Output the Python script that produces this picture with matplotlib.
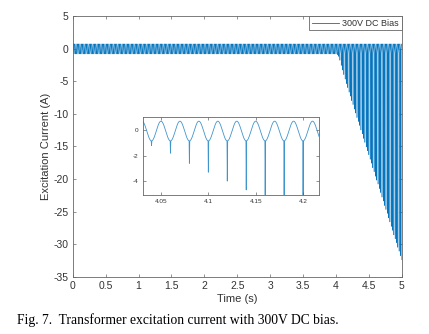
import numpy as np
import matplotlib
matplotlib.use('Agg')
import matplotlib.pyplot as plt

plt.rcParams['font.family'] = ['Liberation Sans', 'DejaVu Sans']
plt.rcParams['axes.unicode_minus'] = False

# values
freq = 50.0            # Hz, one dip every 0.02 s
amp = 0.78             # A, sine amplitude
offset = -0.05         # A
spike_start = 4.02     # s, first trough with a saturation spike
spike_step = 0.02      # s
spike_depth = [-0.95, -1.2, -1.8, -2.6, -3.3, -4.0, -4.7,
               -5.4, -6.0, -6.7, -7.3, -8.0, -8.6, -9.3, -9.9, -10.6, -11.2,
               -11.8, -12.5, -13.1, -13.8, -14.4, -15.1, -15.7, -16.3, -17.0, -17.6,
               -18.3, -18.9, -19.6, -20.2, -20.8, -21.5, -22.1, -22.8, -23.4, -24.1,
               -24.7, -25.3, -26.0, -26.6, -27.3, -27.9, -28.6, -29.2, -29.8, -30.5,
               -31.1, -31.8, -32.4]

x_ticks = [0, 0.5, 1, 1.5, 2, 2.5, 3, 3.5, 4, 4.5, 5]
y_ticks = [5, 0, -5, -10, -15, -20, -25, -30, -35]
inset_x_ticks = [4.05, 4.1, 4.15, 4.2]
inset_y_ticks = [0, -2, -4]

# build the waveform
t = np.linspace(0, 5, 50001)
i_exc = offset - amp * np.cos(2 * np.pi * freq * t)
trough = offset - amp
w = 0.0003
for k, d in enumerate(spike_depth):
    tk = spike_start + k * spike_step
    tri = np.clip(1 - np.abs(t - tk) / w, 0, None)
    i_exc += (d - trough) * tri

blue = '#0072BD'
edge = '#666666'
txt = '#333333'

fig = plt.figure(figsize=(4.29, 3.34), dpi=100)
ax = fig.add_axes([0.1695, 0.1716, 0.767, 0.7805])
ax.plot(t, i_exc, color=blue, lw=0.35, label='300V DC Bias')
ax.set_xlim(0, 5)
ax.set_ylim(-35, 5)
ax.set_xticks(x_ticks)
ax.set_xticklabels([f'{v:g}' for v in x_ticks])
ax.set_yticks(y_ticks)
ax.set_xlabel('Time (s)', fontsize=8, color=txt, labelpad=2)
ax.set_ylabel('Excitation Current (A)', fontsize=8, color=txt, labelpad=2)
ax.tick_params(direction='in', length=2.5, width=0.5, labelsize=7.5,
               colors=edge, labelcolor=txt, top=True, right=True, pad=3)
for s in ax.spines.values():
    s.set_color(edge)
    s.set_linewidth(0.6)
leg = ax.legend(loc='upper right', fontsize=6.5, borderaxespad=0, fancybox=False,
                handlelength=3.0, handletextpad=0.4, borderpad=0.3, framealpha=1)
leg.get_frame().set_edgecolor(edge)
leg.get_frame().set_linewidth(0.6)
for ln in leg.get_lines():
    ln.set_linewidth(0.6)
for tx in leg.get_texts():
    tx.set_color(txt)

# zoomed inset
axin = fig.add_axes([0.3333, 0.4162, 0.410, 0.2335])
axin.plot(t, i_exc, color=blue, lw=0.6, alpha=0.75)
axin.set_xlim(4.031, 4.2167)
axin.set_ylim(-5.1, 1.06)
axin.set_xticks(inset_x_ticks)
axin.set_xticklabels([f'{v:g}' for v in inset_x_ticks])
axin.set_yticks(inset_y_ticks)
axin.tick_params(direction='in', length=2, width=0.5, labelsize=4.6,
                 colors=edge, labelcolor=txt, top=True, right=True, pad=3)
for s in axin.spines.values():
    s.set_color(edge)
    s.set_linewidth(0.6)

fig.text(16.7 / 429, 1 - 320 / 334, 'Fig. 7.  Transformer excitation current with 300V DC bias.',
         family='Liberation Serif', fontsize=9.8, va='center', ha='left', color='black')

fig.savefig('out.png', dpi=100)
